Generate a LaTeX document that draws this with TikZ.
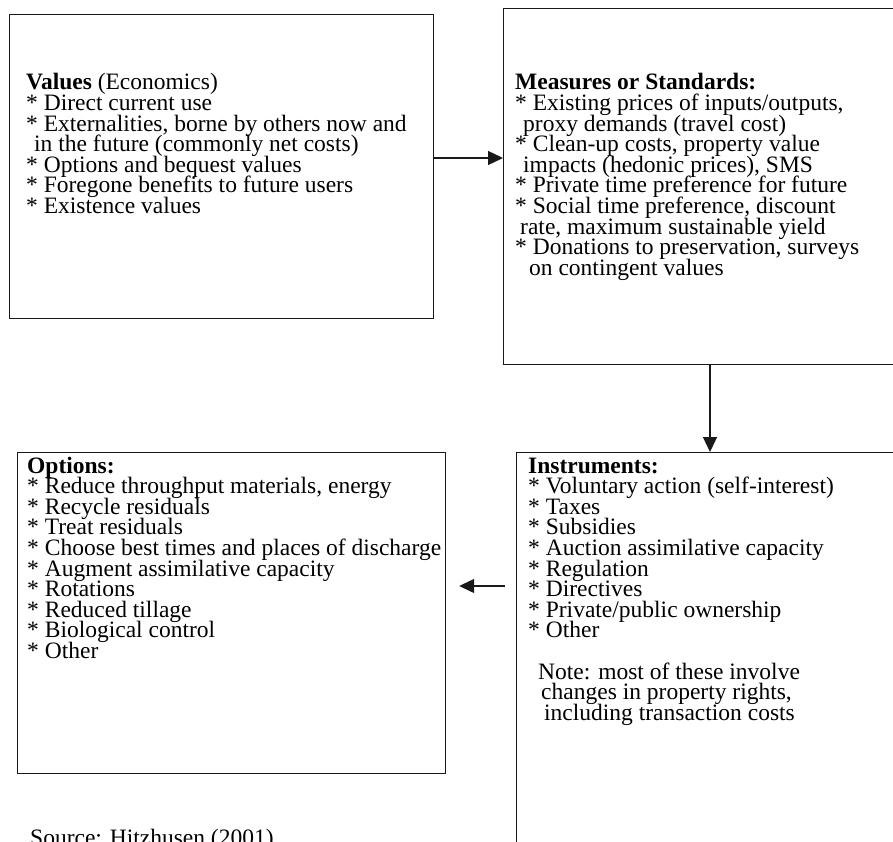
\documentclass[tikz,border=0pt]{standalone}
\usepackage{fontspec}
\setmainfont{Liberation Serif}
\usetikzlibrary{arrows.meta}

% text block whose base is the baseline of its first line
\newcommand{\boxtext}[1]{\parbox[t]{500pt}{\lineskiplimit=-100pt\raggedright #1}}
% list mark at the start of a line
\newcommand{\mk}{{*}\ }

\begin{document}
\begin{tikzpicture}[x=1pt,y=-1pt,
  frame/.style={draw=black!90, line width=1.2pt, inner sep=0pt, anchor=north west},
  txt/.style={anchor=base west, inner sep=0pt, font=\fontsize{23.5}{20.6}\selectfont},
  arr/.style={draw=black!90, line width=1.3pt, -{Triangle[length=15pt,width=14pt]}}]

\useasboundingbox (0,0) rectangle (893,842);
\clip (0,0) rectangle (893,842);
\fill[white] (0,0) rectangle (893,842);

% frames
\node[frame, minimum width=424pt, minimum height=304pt] (values) at (9,14) {};
\node[frame, minimum width=460pt, minimum height=356pt] (measures) at (503,8) {};
\node[frame, minimum width=428pt, minimum height=321pt] (options) at (17,452) {};
\node[frame, minimum width=460pt, minimum height=430pt] (instr) at (516,452) {};

% texts
\node[txt] (valtext) at (26,90) {\boxtext{%
\textbf{Values} (Economics)\\
\mk Direct current use\\
\mk Externalities, borne by others now and\\
\hspace*{8pt}in the future (commonly net costs)\\
\mk Options and bequest values\\
\mk Foregone benefits to future users\\
\mk Existence values}};

\node[txt] (meastext) at (515,90) {\boxtext{%
\textbf{Measures or Standards:}\\
\mk Existing prices of inputs/outputs,\\
\hspace*{8pt}proxy demands (travel cost)\\
\mk Clean-up costs, property value\\
\hspace*{8pt}impacts (hedonic prices), SMS\\
\mk Private time preference for future\\
\mk Social time preference, discount\\
\hspace*{5pt}rate, maximum sustainable yield\\
\mk Donations to preservation, surveys\\
\hspace*{14pt}on contingent values}};

\node[txt] (opttext) at (27,473) {\boxtext{%
\textbf{Options:}\\
\mk Reduce throughput materials, energy\\
\mk Recycle residuals\\
\mk Treat residuals\\
\mk Choose best times and places of discharge\\
\mk Augment assimilative capacity\\
\mk Rotations\\
\mk Reduced tillage\\
\mk Biological control\\
\mk Other}};

\node[txt] (instrtext) at (528,473) {\boxtext{%
\textbf{Instruments:}\\
\mk Voluntary action (self-interest)\\
\mk Taxes\\
\mk Subsidies\\
\mk Auction assimilative capacity\\
\mk Regulation\\
\mk Directives\\
\mk Private/public ownership\\
\mk Other\\
\mbox{}\\
\hspace*{10pt}Note: most of these involve\\
\hspace*{13pt}changes in property rights,\\
\hspace*{16pt}including transaction costs}};

\node[txt] (source) at (30,845) {Source: Hitzhusen (2001)};

% connectors
\coordinate (row1) at (0,158);
\coordinate (col1) at (710,0);
\coordinate (row2) at (0,586);
\draw[arr] (values.east |- row1) -- (measures.west |- row1);
\draw[arr] (measures.south -| col1) -- (instr.north -| col1);
\draw[arr] ([xshift=-11pt]instr.west |- row2) -- ([xshift=13pt]options.east |- row2);
\end{tikzpicture}
\end{document}
